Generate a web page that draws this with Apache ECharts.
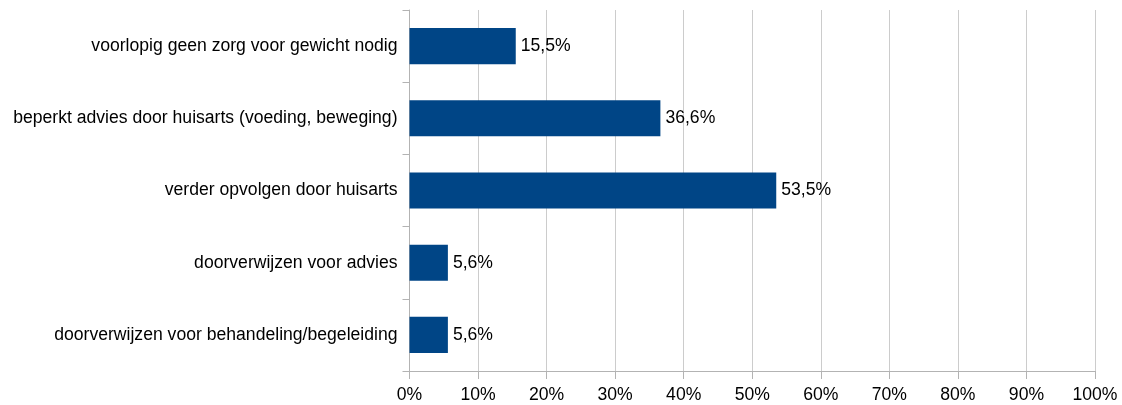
<!DOCTYPE html>
<html><head><meta charset="utf-8">
<script src="https://cdn.jsdelivr.net/npm/echarts@6/dist/echarts.min.js"></script>
<style>html,body{margin:0;padding:0;background:#fff}#c{width:1122px;height:405px}</style>
</head><body><div id="c"></div>
<script>
const categories = [
  "voorlopig geen zorg voor gewicht nodig",
  "beperkt advies door huisarts (voeding, beweging)",
  "verder opvolgen door huisarts",
  "doorverwijzen voor advies",
  "doorverwijzen voor behandeling/begeleiding"
];
const values = [15.5, 36.6, 53.5, 5.6, 5.6];
const font = "'Liberation Sans', Arial, sans-serif";
const chart = echarts.init(document.getElementById('c'), null, {renderer: 'canvas'});
chart.setOption({
  animation: false,
  grid: {left: 409.5, right: 27, top: 10, bottom: 34, containLabel: false},
  xAxis: {
    type: 'value', min: 0, max: 100, interval: 10,
    axisLine: {show: true, lineStyle: {color: '#b3b3b3'}},
    axisTick: {show: true, length: 8, lineStyle: {color: '#b3b3b3'}},
    splitLine: {show: true, lineStyle: {color: '#cccccc'}},
    axisLabel: {formatter: v => v + '%', color: '#000', fontFamily: font, fontSize: 17.6, margin: 15}
  },
  yAxis: {
    type: 'category', data: categories, inverse: true,
    axisLine: {show: true, lineStyle: {color: '#b3b3b3'}},
    axisTick: {show: true, length: 7, lineStyle: {color: '#b3b3b3'}},
    axisLabel: {color: '#000', fontFamily: font, fontSize: 17.6, margin: 12}
  },
  series: [{
    type: 'bar', data: values, barWidth: '50%',
    itemStyle: {color: '#004586'},
    label: {show: true, position: 'right', distance: 5, color: '#000', fontFamily: font, fontSize: 17.6,
      formatter: p => p.value.toFixed(1).replace('.', ',') + '%'}
  }]
});
</script></body></html>
